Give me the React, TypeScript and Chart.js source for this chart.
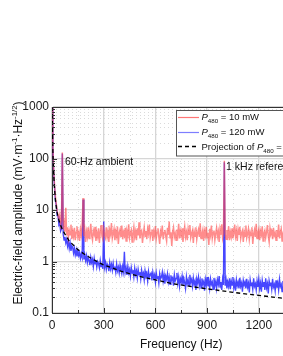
import React, { useEffect, useRef } from "react";
import { Chart, registerables } from "chart.js";

Chart.register(...registerables);

// ---------- data ----------
const FREQ_STEP_HZ = 5; // spectral bin spacing, first bin at 0 Hz

// P480 = 10 mW (red), 5 Hz bins from 0 Hz
const RED_10MW = [
  1000, 170, 55, 30, 18, 13, 9.5, 8.0, 6.5, 8.0,
  5.0, 6.2, 130, 4.2, 5.5, 3.8, 11, 3.2, 4.6, 2.9,
  4.0, 3.3, 5.2, 2.7, 3.9, 3.1, 4.5, 2.6, 3.7, 4.8,
  3.0, 3.6, 2.5, 4.2, 3.3, 5.0, 17, 3.1, 4.1, 2.4,
  3.8, 3.0, 4.6, 2.8, 3.5, 5.4, 3.2, 2.6, 4.0, 3.4,
  4.7, 2.5, 3.6, 3.0, 4.4, 2.3, 3.7, 5.1, 3.1, 2.7,
  4.3, 3.3, 2.9, 4.6, 3.0, 3.9, 2.4, 4.1, 3.4, 5.6,
  2.8, 3.5, 4.3, 2.6, 3.8, 3.1, 4.8, 2.2, 3.6, 4.2,
  3.0, 5.0, 2.7, 3.7, 3.2, 4.5, 2.5, 3.9, 3.3, 5.3,
  2.9, 3.6, 4.1, 2.4, 3.5, 4.7, 3.0, 3.8, 2.6, 4.4,
  3.2, 5.8, 2.8, 3.7, 4.0, 2.3, 3.4, 4.6, 3.1, 3.9,
  2.7, 4.3, 3.5, 5.2, 2.9, 3.6, 4.2, 2.5, 3.8, 3.2,
  4.9, 2.8, 3.7, 4.4, 3.0, 2.2, 3.9, 3.4, 5.0, 2.7,
  3.6, 4.1, 3.1, 2.5, 4.5, 3.3, 6.0, 2.9, 3.7, 2.0,
  3.8, 4.6, 3.0, 3.5, 2.6, 4.2, 3.3, 5.4, 2.8, 3.9,
  3.2, 4.4, 2.4, 3.6, 4.8, 3.0, 3.7, 2.6, 4.3, 3.4,
  5.1, 2.9, 3.5, 4.0, 2.3, 3.8, 3.1, 4.6, 2.7, 3.6,
  4.2, 3.0, 5.5, 2.8, 3.4, 4.1, 2.5, 3.9, 3.2, 4.7,
  2.9, 3.6, 2.1, 4.3, 3.3, 5.0, 2.8, 3.7, 4.0, 2.6,
  3.5, 4.5, 3.1, 3.8, 2.4, 4.2, 3.3, 5.3, 2.9, 3.6,
  90, 3.4, 2.7, 4.1, 3.2, 4.8, 2.6, 3.7, 3.0, 4.4,
  2.8, 3.5, 5.2, 3.1, 3.9, 2.5, 4.2, 3.3, 4.7, 2.8,
  3.6, 4.0, 2.4, 3.8, 3.1, 5.0, 2.9, 3.5, 4.3, 2.7,
  3.7, 3.2, 4.6, 2.2, 3.4, 4.1, 3.0, 5.4, 2.8, 3.6,
  4.2, 2.6, 3.9, 3.3, 4.8, 2.5, 3.5, 4.0, 2.9, 3.7,
  5.1, 3.1, 2.4, 4.4, 3.4, 3.8, 2.7, 4.5, 3.2, 3.6,
  2.6, 4.1, 3.0, 5.2, 2.8, 3.7, 4.3, 2.5, 3.5, 4.0,
  3.1, 4.7, 2.7, 3.6, 3.3, 4.4, 2.9, 3.8, 3.2, 4.6,
  3.0,
];

// P480 = 120 mW (blue), 5 Hz bins from 0 Hz
const BLUE_120MW = [
  1000, 160, 48, 27, 15, 12.5, 7.8, 7.6, 5.2, 5.6,
  3.9, 4.3, 125, 3.4, 2.6, 3.0, 2.3, 2.7, 2.0, 2.5,
  1.8, 2.3, 1.6, 2.0, 1.9, 1.45, 1.8, 1.35, 1.65, 1.25,
  1.6, 1.3, 1.5, 1.15, 1.4, 1.2, 16, 1.1, 1.35, 1.05,
  1.3, 0.95, 1.2, 1.05, 0.85, 1.2, 0.95, 1.1, 0.8, 1.15,
  0.9, 1.05, 0.78, 1.0, 0.92, 0.75, 1.05, 0.8, 0.95, 0.72,
  6.0, 0.78, 0.95, 0.7, 0.9, 0.82, 0.65, 0.95, 0.72, 0.88,
  0.68, 0.92, 0.7, 0.8, 0.62, 0.9, 0.66, 0.78, 0.6, 0.85,
  0.7, 0.58, 0.8, 0.64, 1.55, 0.62, 0.75, 0.55, 0.8, 0.6,
  0.7, 0.52, 0.76, 0.6, 0.68, 0.5, 0.74, 0.56, 0.66, 0.48,
  0.7, 0.55, 0.62, 0.46, 0.68, 0.54, 0.6, 0.44, 0.66, 0.52,
  0.58, 0.42, 0.64, 0.5, 0.56, 0.6, 0.43, 0.62, 0.48, 0.55,
  0.4, 0.6, 0.47, 0.52, 0.38, 0.58, 0.46, 0.5, 0.62, 0.42,
  0.55, 0.37, 0.52, 0.45, 0.58, 0.4, 0.5, 0.36, 0.54, 0.44,
  0.48, 0.34, 0.55, 0.42, 0.47, 0.6, 0.38, 0.5, 0.33, 0.46,
  0.4, 0.52, 0.35, 0.47, 0.39, 0.3, 0.5, 0.37, 0.44, 0.34,
  0.55, 0.4, 0.45, 0.33, 0.48, 0.36, 0.42, 0.28, 0.46, 0.38,
  0.5, 0.34, 0.43, 0.31, 0.47, 0.37, 0.41, 0.27, 0.45, 0.35,
  0.5, 0.33, 0.42, 0.3, 0.46, 0.36, 0.4, 0.29, 0.48, 0.34,
  0.41, 0.3, 0.44, 0.36, 0.52, 0.32, 0.4, 0.28, 0.45, 0.35,
  85, 0.34, 0.44, 0.3, 0.4, 0.33, 0.47, 0.29, 0.42, 0.35,
  0.5, 0.31, 0.39, 0.27, 0.44, 0.34, 0.4, 0.3, 0.48, 0.33,
  0.38, 0.26, 0.43, 0.35, 0.4, 0.3, 0.46, 0.32, 0.38, 0.25,
  0.44, 0.34, 0.39, 0.29, 0.47, 0.33, 0.37, 0.28, 0.42, 0.32,
  0.45, 0.3, 0.38, 0.26, 0.43, 0.33, 0.4, 0.28, 0.47, 0.31,
  0.37, 0.24, 0.42, 0.34, 0.39, 0.29, 0.46, 0.32, 0.36, 0.27,
  0.43, 0.31, 0.38, 0.28, 0.45, 0.33, 0.36, 0.26, 0.42, 0.31,
  0.38, 0.27, 0.44, 0.32, 0.36, 0.25, 0.41, 0.33, 0.37, 0.28,
  0.43,
];

// projection (dashed)
const PROJ_FREQ = [1, 2, 5, 8, 10, 15, 20, 27, 35, 46, 60, 75, 100, 150, 200, 278, 300, 400, 500, 600, 700, 800, 900, 1000, 1100, 1200, 1300, 1400, 1500];
const PROJ_VAL = [1000, 500, 140, 70, 50, 25, 15.5, 10, 7.3, 5.4, 4.2, 3.4, 2.5, 1.7, 1.3, 0.93, 0.86, 0.65, 0.52, 0.44, 0.37, 0.33, 0.295, 0.265, 0.24, 0.22, 0.2, 0.186, 0.174];

const X_MIN = 0;
const X_MAX = 1500;
const X_TICKS = [0, 300, 600, 900, 1200, 1500];
const X_MINOR = [150, 450, 750, 1050, 1350];
const Y_MIN = 0.1;
const Y_MAX = 1000;
const Y_TICKS = [0.1, 1, 10, 100, 1000];
const Y_TICK_LABELS = ["0.1", "1", "10", "100", "1000"];

const X_TITLE = "Frequency (Hz)";
const Y_TITLE = [
  { t: "Electric-field amplitude (mV·m" },
  { t: "-1", s: "sup" },
  { t: "·Hz" },
  { t: "-1/2", s: "sup" },
  { t: ")" },
];
const LEGEND_ITEMS = [
  { segs: [{ t: "P", s: "i" }, { t: "480", s: "sub" }, { t: " = 10 mW" }], color: "rgba(255,60,60,0.7)", dash: [] },
  { segs: [{ t: "P", s: "i" }, { t: "480", s: "sub" }, { t: " = 120 mW" }], color: "rgba(40,40,255,0.6)", dash: [] },
  { segs: [{ t: "Projection of " }, { t: "P", s: "i" }, { t: "480", s: "sub" }, { t: " = 1 W" }], color: "#000", dash: [4, 3] },
];
const ANNOTATIONS = [
  { text: "60-Hz ambient", f: 75, v: 84 },
  { text: "1 kHz reference", f: 1010, v: 67 },
];

// ---------- styling ----------
const FAM = '"Liberation Sans", Arial, Helvetica, sans-serif';
const CANVAS_W = 340;
const CANVAS_H = 356;

type Seg = { t: string; s?: string };

function drawRich(ctx: any, segs: Seg[], x: number, baseY: number, size: number, align: string) {
  const small = Math.round(size * 0.65 * 10) / 10;
  const fontFor = (s?: string) =>
    s === "sub" || s === "sup" ? `${small}px ${FAM}` : s === "i" ? `italic ${size}px ${FAM}` : `${size}px ${FAM}`;
  const widths = segs.map((sg) => {
    ctx.font = fontFor(sg.s);
    return ctx.measureText(sg.t).width;
  });
  const total = widths.reduce((a, b) => a + b, 0);
  let cx = align === "center" ? x - total / 2 : x;
  ctx.textAlign = "left";
  ctx.textBaseline = "alphabetic";
  segs.forEach((sg, i) => {
    ctx.font = fontFor(sg.s);
    const dy = sg.s === "sub" ? size * 0.35 : sg.s === "sup" ? -size * 0.42 : 0;
    ctx.fillText(sg.t, cx, baseY + dy);
    cx += widths[i];
  });
}

const decorPlugin = {
  id: "decor",
  beforeDatasetsDraw(chart: any) {
    const { ctx, chartArea: a, scales } = chart;
    const xs = scales.x;
    const ys = scales.y;
    ctx.save();
    ctx.beginPath();
    ctx.rect(a.left, a.top, a.right - a.left, a.bottom - a.top);
    ctx.clip();
    ctx.strokeStyle = "#dadada";
    ctx.lineWidth = 1;
    ctx.setLineDash([1, 3]);
    for (const f of X_MINOR) {
      const px = Math.round(xs.getPixelForValue(f)) + 0.5;
      ctx.beginPath();
      ctx.moveTo(px, a.top);
      ctx.lineTo(px, a.bottom);
      ctx.stroke();
    }
    for (let d = 0; d < Y_TICKS.length - 1; d++) {
      for (let m = 2; m <= 9; m++) {
        const py = Math.round(ys.getPixelForValue(Y_TICKS[d] * m)) + 0.5;
        ctx.beginPath();
        ctx.moveTo(a.left, py);
        ctx.lineTo(a.right, py);
        ctx.stroke();
      }
    }
    ctx.restore();
  },
  afterDraw(chart: any) {
    const { ctx, chartArea: a, scales } = chart;
    const xs = scales.x;
    const ys = scales.y;
    ctx.save();
    // frame top/right
    ctx.strokeStyle = "#333";
    ctx.lineWidth = 1;
    ctx.setLineDash([]);
    ctx.beginPath();
    ctx.moveTo(a.left, a.top + 0.5);
    ctx.lineTo(a.right, a.top + 0.5);
    ctx.lineTo(a.right, a.bottom);
    ctx.stroke();
    // inward ticks
    ctx.beginPath();
    for (const f of X_TICKS) {
      const px = Math.round(xs.getPixelForValue(f)) + 0.5;
      ctx.moveTo(px, a.bottom);
      ctx.lineTo(px, a.bottom - 5);
    }
    for (const f of X_MINOR) {
      const px = Math.round(xs.getPixelForValue(f)) + 0.5;
      ctx.moveTo(px, a.bottom);
      ctx.lineTo(px, a.bottom - 3);
    }
    for (const v of Y_TICKS) {
      const py = Math.round(ys.getPixelForValue(v)) + 0.5;
      ctx.moveTo(a.left, py);
      ctx.lineTo(a.left + 5, py);
    }
    for (let d = 0; d < Y_TICKS.length - 1; d++) {
      for (let m = 2; m <= 9; m++) {
        const py = Math.round(ys.getPixelForValue(Y_TICKS[d] * m)) + 0.5;
        ctx.moveTo(a.left, py);
        ctx.lineTo(a.left + 3, py);
      }
    }
    ctx.stroke();

    // annotations
    ctx.fillStyle = "#111";
    ctx.font = `10.5px ${FAM}`;
    ctx.textAlign = "left";
    ctx.textBaseline = "middle";
    for (const an of ANNOTATIONS) {
      ctx.fillText(an.text, xs.getPixelForValue(an.f), ys.getPixelForValue(an.v));
    }

    // legend
    const lx = 176.5, ly = 110.5, lw = 150, lh = 45.5;
    ctx.fillStyle = "#fff";
    ctx.fillRect(lx, ly, lw, lh);
    ctx.strokeStyle = "#555";
    ctx.lineWidth = 1;
    ctx.strokeRect(lx, ly, lw, lh);
    const rows = [116.7, 131.5, 146.3];
    LEGEND_ITEMS.forEach((it, i) => {
      const y = Math.round(rows[i]) + 0.5;
      ctx.strokeStyle = it.color;
      ctx.lineWidth = it.dash.length ? 1.3 : 1.2;
      ctx.setLineDash(it.dash);
      ctx.beginPath();
      ctx.moveTo(178, y);
      ctx.lineTo(199, y);
      ctx.stroke();
      ctx.setLineDash([]);
      ctx.fillStyle = "#111";
      drawRich(ctx, it.segs, 201.5, rows[i] + 3.4, 9.5, "left");
    });

    // axis titles
    ctx.fillStyle = "#111";
    drawRich(ctx, [{ t: X_TITLE }], (a.left + a.right) / 2, 348, 12, "center");
    ctx.save();
    ctx.translate(22, 203);
    ctx.rotate(-Math.PI / 2);
    drawRich(ctx, Y_TITLE, 0, 0, 12, "center");
    ctx.restore();

    ctx.restore();
  },
};

export default function App() {
  const ref = useRef<HTMLCanvasElement>(null);

  useEffect(() => {
    const canvas = ref.current;
    if (!canvas) return;
    const toPts = (arr: number[]) => arr.map((v, i) => ({ x: i * FREQ_STEP_HZ, y: v }));
    const proj = PROJ_FREQ.map((f, i) => ({ x: f, y: PROJ_VAL[i] }));

    const chart = new Chart(canvas, {
      type: "line",
      data: {
        datasets: [
          {
            label: "P480 = 10 mW",
            data: toPts(RED_10MW),
            borderColor: "rgba(255,70,70,0.62)",
            borderWidth: 1.5,
            pointRadius: 0,
            tension: 0,
            order: 1,
          },
          {
            label: "P480 = 120 mW",
            data: toPts(BLUE_120MW),
            borderColor: "rgba(30,30,255,0.82)",
            borderWidth: 1.4,
            pointRadius: 0,
            tension: 0,
            order: 2,
          },
          {
            label: "Projection",
            data: proj,
            borderColor: "#000",
            borderWidth: 1.3,
            borderDash: [4, 3],
            pointRadius: 0,
            tension: 0,
            order: 0,
          },
        ],
      },
      options: {
        responsive: false,
        animation: false,
        devicePixelRatio: 1,
        layout: { padding: { top: 107, right: CANVAS_W - 310.5, left: 0, bottom: 0 } },
        plugins: { legend: { display: false }, tooltip: { enabled: false } },
        scales: {
          x: {
            type: "linear",
            min: X_MIN,
            max: X_MAX,
            afterBuildTicks: (s: any) => {
              s.ticks = X_TICKS.map((v) => ({ value: v }));
            },
            afterFit: (s: any) => {
              s.height = 43;
            },
            ticks: {
              font: { family: FAM, size: 12 },
              color: "#1a1a1a",
              padding: 5,
              maxRotation: 0,
              autoSkip: false,
              callback: (v: any) => String(v),
            },
            grid: { color: "#d6d6d6", lineWidth: 1.3, drawTicks: false },
            border: { display: true, color: "#333", width: 1 },
          },
          y: {
            type: "logarithmic",
            min: Y_MIN,
            max: Y_MAX,
            afterBuildTicks: (s: any) => {
              s.ticks = Y_TICKS.map((v) => ({ value: v }));
            },
            afterFit: (s: any) => {
              s.width = 52;
            },
            ticks: {
              font: { family: FAM, size: 12 },
              color: "#1a1a1a",
              padding: 3,
              autoSkip: false,
              callback: (_v: any, i: number) => Y_TICK_LABELS[i],
            },
            grid: { color: "#d6d6d6", lineWidth: 1.3, drawTicks: false },
            border: { display: true, color: "#333", width: 1 },
          },
        },
      },
      plugins: [decorPlugin],
    } as any);

    return () => chart.destroy();
  }, []);

  return (
    <div
      style={{
        position: "fixed",
        left: 0,
        top: 0,
        width: 283,
        height: 356,
        overflow: "hidden",
        background: "#fff",
      }}
    >
      <canvas
        ref={ref}
        width={CANVAS_W}
        height={CANVAS_H}
        style={{ display: "block", width: CANVAS_W, height: CANVAS_H }}
      />
    </div>
  );
}
